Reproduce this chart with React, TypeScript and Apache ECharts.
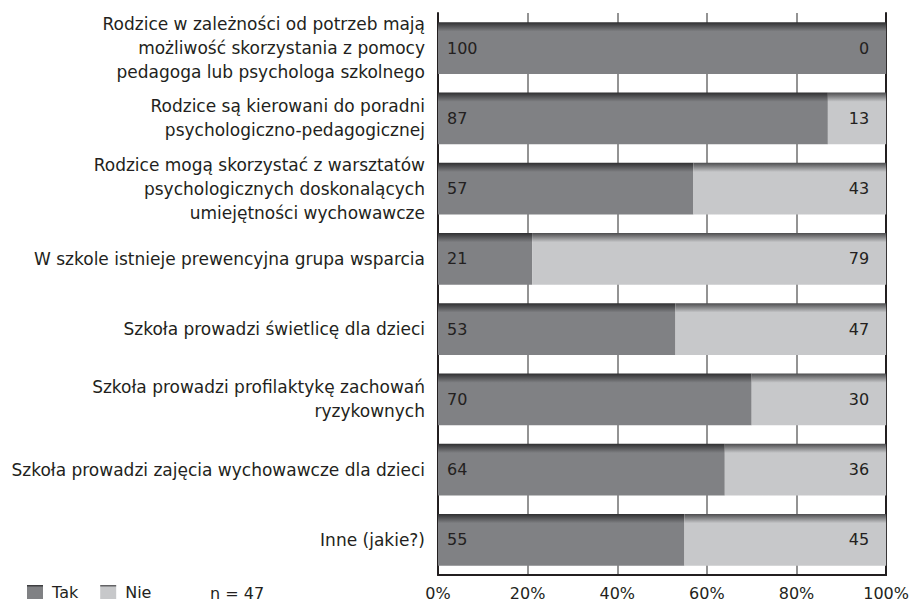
import React, { useEffect, useRef } from "react";
import * as echarts from "echarts";

const categories = [
  "Rodzice w zależności od potrzeb mają\nmożliwość skorzystania z pomocy\npedagoga lub psychologa szkolnego",
  "Rodzice są kierowani do poradni\npsychologiczno-pedagogicznej",
  "Rodzice mogą skorzystać z warsztatów\npsychologicznych doskonalących\numiejętności wychowawcze",
  "W szkole istnieje prewencyjna grupa wsparcia",
  "Szkoła prowadzi świetlicę dla dzieci",
  "Szkoła prowadzi profilaktykę zachowań\nryzykownych",
  "Szkoła prowadzi zajęcia wychowawcze dla dzieci",
  "Inne (jakie?)",
];
const takValues = [100, 87, 57, 21, 53, 70, 64, 55];
const nieValues = [0, 13, 43, 79, 47, 30, 36, 45];
const seriesNames = ["Tak", "Nie"];
const gridTicks = [20, 40, 60, 80];
const sampleNote = "n = 47";

const FONT = "'DejaVu Sans', sans-serif";
const TEXT = "#231f20";
const FS = 16;
const FS_CAT = 17;

export default function App() {
  const ref = useRef<HTMLDivElement>(null);
  useEffect(() => {
    if (!ref.current) return;
    const chart = echarts.init(ref.current, null, { renderer: "svg" });
    const grad = (top: string, base: string) =>
      new echarts.graphic.LinearGradient(0, 0, 0, 1, [
        { offset: 0, color: top },
        { offset: 0.18, color: base },
        { offset: 1, color: base },
      ]);
    chart.setOption({
      animation: false,
      textStyle: { fontFamily: FONT },
      grid: { left: 438, right: 24, top: 13, bottom: 27 },
      legend: {
        left: 22,
        bottom: 0,
        padding: [0, 5, 2, 5],
        itemWidth: 16,
        itemHeight: 14,
        itemGap: 22,
        icon: "rect",
        textStyle: { fontSize: FS, color: TEXT, fontFamily: FONT, padding: [0, 0, 0, 4] },
        data: seriesNames,
      },
      graphic: [
        {
          type: "text",
          left: 210,
          bottom: 1,
          style: { text: sampleNote, fontSize: FS, fill: TEXT, fontFamily: FONT },
        },
      ],
      xAxis: {
        type: "value",
        min: 0,
        max: 100,
        interval: 20,
        axisLine: { show: true, lineStyle: { color: "#231f20", width: 2 } },
        axisTick: { show: false },
        splitLine: { show: true, lineStyle: { color: "#8c8c8c", width: 1.5 } },
        axisLabel: {
          formatter: "{value}%",
          fontSize: FS,
          color: TEXT,
          margin: 10,
          fontFamily: FONT,
        },
      },
      yAxis: [
        {
          type: "category",
          data: categories,
          inverse: true,
          axisLine: { show: true, lineStyle: { color: "#231f20", width: 2 } },
          axisTick: { show: false },
          axisLabel: {
            fontSize: FS_CAT,
            lineHeight: 24,
            color: TEXT,
            margin: 13,
            align: "right",
            fontFamily: FONT,
          },
        },
        {
          type: "category",
          data: categories,
          inverse: true,
          position: "right",
          axisLine: { show: true, lineStyle: { color: "#231f20", width: 2 } },
          axisTick: { show: false },
          axisLabel: { show: false },
        },
      ],
      series: [
        {
          name: "grid",
          type: "line",
          data: [],
          z: 0,
          silent: true,
          markLine: {
            silent: true,
            z: 0,
            symbol: "none",
            label: { show: false },
            lineStyle: { color: "#8c8c8c", width: 1.5, type: "solid" },
            data: gridTicks.map((v) => ({ xAxis: v })),
          },
        },
        {
          name: seriesNames[0],
          type: "bar",
          stack: "total",
          barWidth: "74%",
          z: 3,
          data: takValues,
          itemStyle: { color: grad("#2e2e30", "#808184") },
          label: {
            show: true,
            position: "insideLeft",
            distance: 9,
            fontSize: FS,
            color: TEXT,
            fontFamily: FONT,
          },
        },
        {
          name: seriesNames[1],
          type: "bar",
          stack: "total",
          barWidth: "74%",
          z: 3,
          data: nieValues,
          itemStyle: { color: grad("#4a4a4c", "#c7c8ca") },
          label: {
            show: true,
            position: "insideRight",
            distance: 17,
            fontSize: FS,
            color: TEXT,
            fontFamily: FONT,
          },
        },
      ],
    });
    return () => chart.dispose();
  }, []);
  return <div ref={ref} style={{ width: 912, height: 602, position: "absolute", left: 0, top: 0 }} />;
}
